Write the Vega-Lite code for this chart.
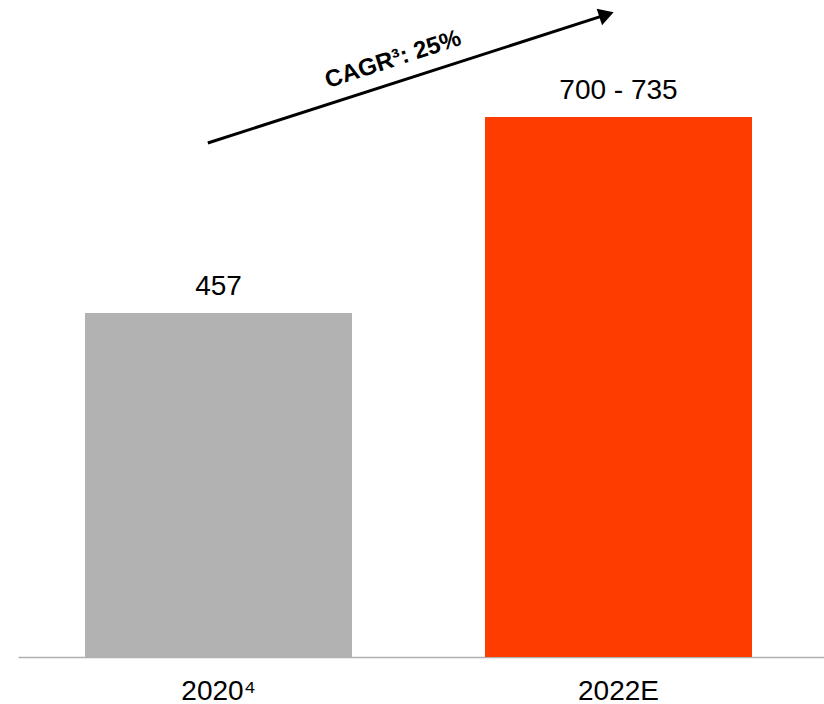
{
  "$schema": "https://vega.github.io/schema/vega-lite/v6.json",
  "autosize": {"type": "none"},
  "width": 806,
  "height": 657,
  "padding": {"left": 18, "top": 0, "right": 0, "bottom": 47},
  "background": "white",
  "config": {"view": {"stroke": null}, "font": "Liberation Sans"},
  "datasets": {
    "bars": [
      {"period": "2020⁴", "value": 457, "label": "457"},
      {"period": "2022E", "value": 717.5, "label": "700 - 735"}
    ],
    "arrow": [
      {"from": "2020⁴", "to": "2022E", "y_start": 683, "y_end": 853.5, "text": "CAGR³: 25%"}
    ]
  },
  "layer": [
    {
      "data": {"name": "bars"},
      "mark": {"type": "bar"},
      "encoding": {
        "x": {
          "field": "period", "type": "nominal", "sort": null,
          "scale": {"type": "band", "paddingInner": 0.3325, "paddingOuter": 0.17375, "align": 0.482},
          "axis": {
            "title": null, "labelAngle": 0, "ticks": false, "tickSize": 0,
            "domain": true, "domainColor": "#b0b0b0", "domainWidth": 1.5,
            "labelFontSize": 28, "labelColor": "#000000", "labelFont": "Liberation Sans",
            "labelBaseline": "alphabetic", "labelPadding": 42
          }
        },
        "y": {
          "field": "value", "type": "quantitative",
          "scale": {"domain": [0, 873], "nice": false, "zero": true},
          "axis": null
        },
        "color": {
          "field": "period", "type": "nominal",
          "scale": {"domain": ["2020⁴", "2022E"], "range": ["#b2b2b2", "#ff3c00"]},
          "legend": null
        }
      }
    },
    {
      "data": {"name": "bars"},
      "mark": {"type": "text", "fontSize": 28, "font": "Liberation Sans", "color": "#000000", "baseline": "alphabetic", "align": "center", "dy": -18},
      "encoding": {
        "x": {"field": "period", "type": "nominal", "sort": null},
        "y": {"field": "value", "type": "quantitative"},
        "text": {"field": "label"}
      }
    },
    {
      "data": {"name": "arrow"},
      "mark": {"type": "rule", "color": "#000000", "strokeWidth": 3},
      "encoding": {
        "x": {"field": "from", "type": "nominal", "bandPosition": 0.46},
        "x2": {"field": "to", "bandPosition": 0.455},
        "y": {"field": "y_start", "type": "quantitative"},
        "y2": {"field": "y_end"}
      }
    },
    {
      "data": {"name": "arrow"},
      "mark": {"type": "point", "shape": "triangle-right", "filled": true, "color": "#000000", "opacity": 1, "size": 300, "angle": 342},
      "encoding": {
        "x": {"field": "to", "type": "nominal", "bandPosition": 0.455},
        "y": {"field": "y_end", "type": "quantitative"}
      }
    },
    {
      "data": {"name": "arrow"},
      "mark": {"type": "text", "fontSize": 24, "fontWeight": "bold", "font": "Liberation Sans", "color": "#000000", "angle": 342, "align": "center", "baseline": "middle", "dx": 202, "dy": -22},
      "encoding": {
        "x": {"field": "from", "type": "nominal", "bandPosition": 0.46},
        "y": {"field": "y_start", "type": "quantitative"},
        "text": {"field": "text"}
      }
    }
  ]
}
